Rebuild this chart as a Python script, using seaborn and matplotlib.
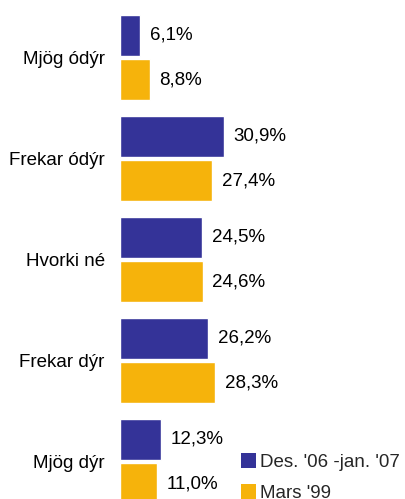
import pandas as pd
import matplotlib.pyplot as plt
import seaborn as sns
from matplotlib.patches import Patch

categories = ['Mjög ódýr', 'Frekar ódýr', 'Hvorki né', 'Frekar dýr', 'Mjög dýr']
series_names = ["Des. '06 -jan. '07", "Mars '99"]
values_new = [6.1, 30.9, 24.5, 26.2, 12.3]
values_old = [8.8, 27.4, 24.6, 28.3, 11.0]
colors = ['#343398', '#f6b30b']


def main():
    df = pd.DataFrame({
        'flokkur': categories * 2,
        'hlutfall': values_new + values_old,
        'tímabil': [series_names[0]] * len(categories) + [series_names[1]] * len(categories),
    })

    sns.set_theme(style="white")
    plt.rcParams['font.family'] = ['Liberation Sans', 'DejaVu Sans']

    fig = plt.figure(figsize=(4.05, 4.99), dpi=100)
    ax = fig.add_axes([120 / 405, 0, 285 / 405, 1])

    sns.barplot(data=df, x='hlutfall', y='flokkur', hue='tímabil', orient='h',
                palette=colors, width=0.88, gap=0.08, saturation=1,
                legend=False, ax=ax)

    # value labels with comma decimal
    for cont, vals in zip(ax.containers, [values_new, values_old]):
        ax.bar_label(cont, labels=[f'{v:.1f}%'.replace('.', ',') for v in vals],
                     padding=7, fontsize=13.5, color='black')

    ax.set_xlim(0, 285 / 3.36)
    ax.set_ylim((499 - 57.5) / 101, -57.5 / 101)
    ax.set_xlabel('')
    ax.set_ylabel('')
    ax.set_xticks([])
    ax.tick_params(axis='y', length=0, pad=11, labelsize=13.5, labelcolor='black')
    for s in ax.spines.values():
        s.set_visible(False)

    handles = [Patch(facecolor=c, edgecolor='none') for c in colors]
    fig.legend(handles, series_names, loc='upper left',
               bbox_to_anchor=(237 / 405, 1 - 449 / 499), frameon=False,
               fontsize=13.5, handlelength=0.82, handleheight=0.85,
               handletextpad=0.2, labelspacing=0.72, borderaxespad=0,
               borderpad=0.2)

    fig.savefig('out.png', dpi=100)


if __name__ == "__main__":
    main()
